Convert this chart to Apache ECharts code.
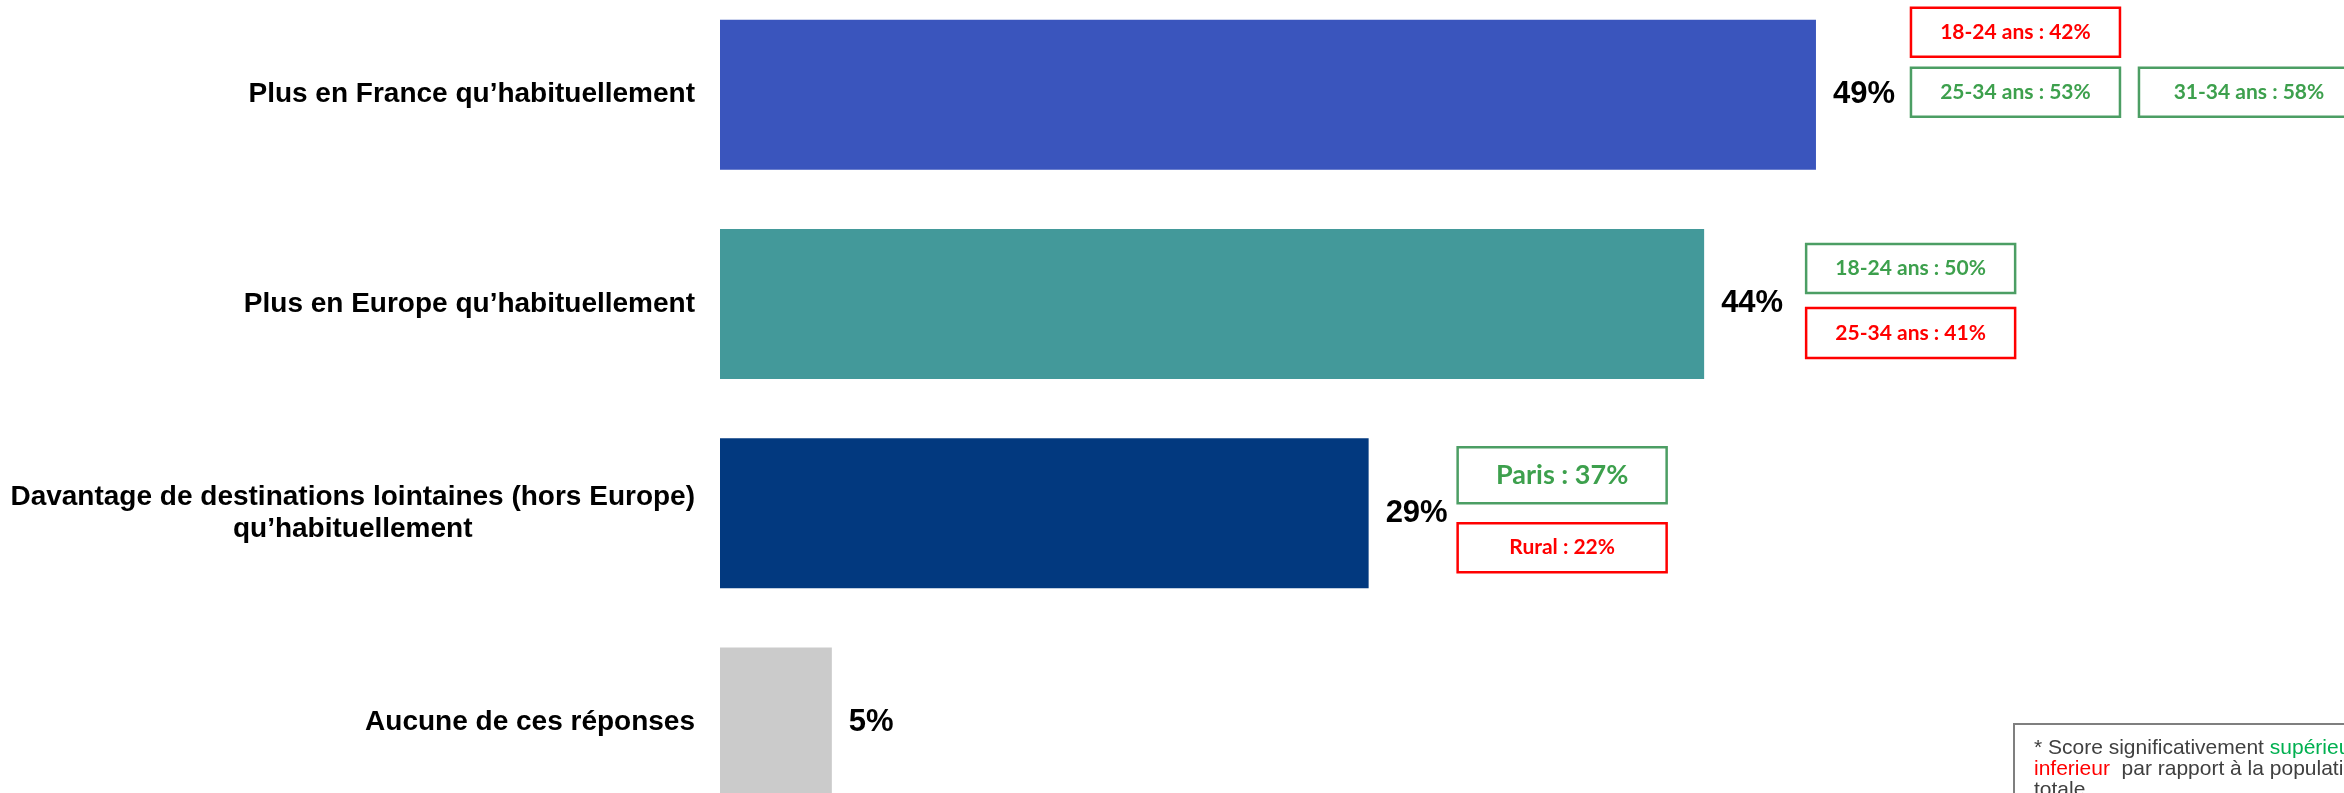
<!DOCTYPE html>
<html>
<head>
<meta charset="utf-8">
<script src="https://cdn.jsdelivr.net/npm/echarts@6/dist/echarts.min.js"></script>
<style>
  html, body { margin: 0; padding: 0; background: #ffffff; }
  #chart { width: 2344px; height: 793px; }
</style>
</head>
<body>
<div id="chart"></div>
<script>
// Answers and their shares (%)
const categories = [
  'Plus en France qu’habituellement',
  'Plus en Europe qu’habituellement',
  'Davantage de destinations lointaines (hors Europe)\nqu’habituellement',
  'Aucune de ces réponses'
];
const values = [49, 44, 29, 5];
const barColors = ['#3A55BD', '#43999A', '#02397F', '#CBCBCB'];

// Sub-population scores, flagged as significantly higher (+) or lower (-)
const subgroupNames = [['18-24 ans', '25-34 ans', '31-34 ans'], ['18-24 ans', '25-34 ans'], ['Paris', 'Rural'], []];
const subgroupValues = [[42, 53, 58], [50, 41], [37, 22], []];
const subgroupSignif = [['-', '+', '+'], ['+', '-'], ['+', '-'], []];

// Callout placement: [dx from bar end, dy from row centre, width, height, font size]
const calloutLayout = [
  [[95, -87, 209, 49, 21], [95, -27, 209, 49, 21], [323, -27, 220, 49, 21]],
  [[102, -60, 209, 49, 21], [102, 4, 209, 50, 21]],
  [[89, -66, 209, 56, 27], [89, 10, 209, 49, 21]],
  []
];

const GREEN_TEXT = '#3DA04D';
const GREEN_LINE = '#4C9E64';
const RED = '#FF0000';

const chart = echarts.init(document.getElementById('chart'), null, { renderer: 'canvas' });

const option = {
  backgroundColor: '#ffffff',
  animation: false,
  grid: {
    left: 720, top: -10, width: 1342, height: 837,
    containLabel: false,
    outerBoundsMode: 'none'
  },
  xAxis: {
    type: 'value', min: 0, max: 60,
    show: false
  },
  yAxis: {
    type: 'category',
    inverse: true,
    data: categories,
    axisLine: { show: false },
    axisTick: { show: false },
    splitLine: { show: false },
    axisLabel: {
      margin: 25,
      color: '#000000',
      fontFamily: 'Liberation Sans, Arial, sans-serif',
      fontWeight: 'bold',
      fontSize: 28,
      formatter: v => v.split('\n').map(l => '{c|' + l + '}').join('\n'),
      rich: {
        c: {
          align: 'center',
          color: '#000000',
          fontFamily: 'Liberation Sans, Arial, sans-serif',
          fontWeight: 'bold',
          fontSize: 28,
          lineHeight: 32
        }
      }
    }
  },
  series: [{
    type: 'bar',
    barWidth: 150,
    data: values.map((v, i) => ({ value: v, itemStyle: { color: barColors[i] } })),
    label: {
      show: true,
      position: 'right',
      distance: 17,
      formatter: '{c}%',
      color: '#000000',
      fontFamily: 'Liberation Sans, Arial, sans-serif',
      fontWeight: 'bold',
      fontSize: 31
    }
  }]
};

chart.setOption(option);

// Callout boxes next to each bar, anchored through the axes
const graphics = [];
categories.forEach((cat, row) => {
  const barEnd = chart.convertToPixel({ xAxisIndex: 0 }, values[row]);
  const rowY = chart.convertToPixel({ yAxisIndex: 0 }, cat);
  subgroupNames[row].forEach((name, k) => {
    const [dx, dy, w, h, fs] = calloutLayout[row][k];
    const high = subgroupSignif[row][k] === '+';
    graphics.push({
      type: 'rect',
      shape: { x: barEnd + dx, y: rowY + dy, width: w, height: h },
      style: { fill: '#ffffff', stroke: high ? GREEN_LINE : RED, lineWidth: 2.5 },
      textContent: {
        style: {
          text: name + ' : ' + subgroupValues[row][k] + '%',
          fill: high ? GREEN_TEXT : RED,
          font: 'bold ' + fs + 'px Lato, "Open Sans", sans-serif'
        }
      },
      textConfig: { position: 'inside' }
    });
  });
});

// Significance legend in the bottom-right corner
graphics.push({
  type: 'rect',
  shape: { x: 2014, y: 724, width: 420, height: 140 },
  style: { fill: '#ffffff', stroke: '#7F7F7F', lineWidth: 2 }
});
graphics.push({
  type: 'text',
  x: 2034,
  y: 738,
  style: {
    text: '{g|* Score significativement }{p|supérieur}{g| /}\n{m|inferieur}{g|  par rapport à la population}\n{g|totale}',
    rich: {
      g: { fill: '#404040', fontFamily: 'Liberation Sans, Arial, sans-serif', fontSize: 21, lineHeight: 21 },
      p: { fill: '#00B050', fontFamily: 'Liberation Sans, Arial, sans-serif', fontSize: 21, lineHeight: 21 },
      m: { fill: '#FF0000', fontFamily: 'Liberation Sans, Arial, sans-serif', fontSize: 21, lineHeight: 21 }
    }
  }
});

chart.setOption({ graphic: graphics });
</script>
</body>
</html>
